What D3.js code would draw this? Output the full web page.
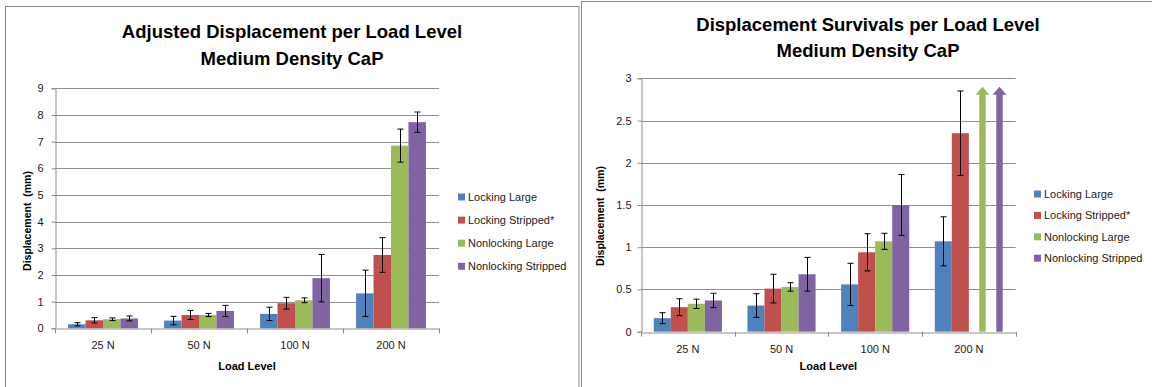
<!DOCTYPE html>
<html><head><meta charset="utf-8">
<script src="https://cdn.jsdelivr.net/npm/d3@7"></script>
<style>
html,body{margin:0;padding:0;background:#fff;}
svg{display:block;font-family:"Liberation Sans",Arial,sans-serif;}
</style></head>
<body>
<svg id="c" width="1152" height="387"></svg>
<script>
// ---------- data ----------
const categories = ["25 N", "50 N", "100 N", "200 N"];
const seriesNames = ["Locking Large", "Locking Stripped*", "Nonlocking Large", "Nonlocking Stripped"];
const seriesColors = ["#4F81BD", "#C0504D", "#9BBB59", "#8064A2"];

// Chart 1: Adjusted Displacement (mm)
const adjLockingLarge       = [0.15, 0.29, 0.54, 1.31];
const adjLockingStripped    = [0.30, 0.50, 0.94, 2.75];
const adjNonlockingLarge    = [0.34, 0.50, 1.05, 6.85];
const adjNonlockingStripped = [0.37, 0.65, 1.88, 7.73];
const adjErrLockingLarge       = [0.06, 0.16, 0.25, 0.87];
const adjErrLockingStripped    = [0.10, 0.17, 0.22, 0.65];
const adjErrNonlockingLarge    = [0.05, 0.06, 0.09, 0.62];
const adjErrNonlockingStripped = [0.09, 0.21, 0.89, 0.38];
const adjTicks = [0, 1, 2, 3, 4, 5, 6, 7, 8, 9];

// Chart 2: Displacement Survivals (mm); null = survived beyond scale (arrow)
const survLockingLarge       = [0.16, 0.31, 0.56, 1.07];
const survLockingStripped    = [0.29, 0.51, 0.94, 2.35];
const survNonlockingLarge    = [0.33, 0.53, 1.07, null];
const survNonlockingStripped = [0.37, 0.68, 1.50, null];
const survErrLockingLarge       = [0.065, 0.14, 0.25, 0.29];
const survErrLockingStripped    = [0.10, 0.17, 0.22, 0.50];
const survErrNonlockingLarge    = [0.055, 0.05, 0.095, null];
const survErrNonlockingStripped = [0.085, 0.20, 0.36, null];
const survArrowTop = 2.9;
const survTicks = [0, 0.5, 1, 1.5, 2, 2.5, 3];

const yTitle = "Displacement  (mm)";
const xTitle = "Load Level";

// ---------- drawing ----------
const svg = d3.select("#c");
const GRID = "#8f8f8f";

// panel frames
svg.append("rect").attr("x", 5.5).attr("y", 6.5).attr("width", 573.5).attr("height", 390)
  .attr("fill", "#fff").attr("stroke", "#8a8a8a");
svg.append("rect").attr("x", 581.5).attr("y", 1.5).attr("width", 580).attr("height", 400)
  .attr("fill", "#fff").attr("stroke", "#8a8a8a");

function drawChart(cfg) {
  const g = svg.append("g");
  const x = d3.scaleBand().domain(categories).range([cfg.x0, cfg.x1]).padding(0);
  const xs = d3.scaleBand().domain(seriesNames).range([0, x.bandwidth()]).paddingInner(0).paddingOuter(0.75);
  const y = d3.scaleLinear().domain([0, cfg.max]).range([cfg.yb, cfg.yt]);

  // gridlines
  g.append("g").selectAll("line").data(cfg.ticks.filter(t => t > 0)).join("line")
    .attr("x1", cfg.x0).attr("x2", cfg.x1)
    .attr("y1", d => Math.round(y(d)) + 0.5).attr("y2", d => Math.round(y(d)) + 0.5)
    .attr("stroke", GRID).attr("stroke-width", 1);

  // y axis
  const ya = g.append("g").attr("transform", `translate(${Math.round(cfg.x0) + 0.5},0)`)
    .call(d3.axisLeft(y).tickValues(cfg.ticks).tickSize(4).tickPadding(cfg.yPad).tickFormat(d3.format("")));
  ya.select(".domain").attr("stroke", GRID);
  ya.selectAll(".tick line").attr("stroke", GRID);
  ya.selectAll("text").attr("font-size", 11).attr("fill", "#1a1a1a").attr("font-family", "Liberation Sans, Arial, sans-serif");

  // x axis
  const xa = g.append("g").attr("transform", `translate(0,${Math.round(cfg.yb) + 0.5})`)
    .call(d3.axisBottom(x).tickSize(0).tickPadding(13));
  xa.select(".domain").attr("stroke", GRID);
  xa.selectAll("text").attr("font-size", 11).attr("fill", "#1a1a1a").attr("font-family", "Liberation Sans, Arial, sans-serif");
  // category boundary ticks
  const bounds = categories.map(c => x(c)).concat([cfg.x1]);
  g.append("g").selectAll("line").data(bounds).join("line")
    .attr("x1", d => Math.round(d) + 0.5).attr("x2", d => Math.round(d) + 0.5)
    .attr("y1", cfg.yb).attr("y2", cfg.yb + 5).attr("stroke", GRID);

  // bars
  cfg.series.forEach((vals, si) => {
    const sg = g.append("g");
    const rows = categories.map((c, ci) => ({c, v: vals[ci], e: cfg.errs[si][ci]}));
    sg.selectAll("rect").data(rows.filter(d => d.v != null)).join("rect")
      .attr("x", d => x(d.c) + xs(seriesNames[si]))
      .attr("width", xs.bandwidth())
      .attr("y", d => y(d.v)).attr("height", d => y(0) - y(d.v))
      .attr("fill", seriesColors[si]);
  });
  // arrows for survivals beyond scale
  if (cfg.arrowTop != null) {
    cfg.series.forEach((vals, si) => {
      categories.forEach((c, ci) => {
        if (vals[ci] == null) {
          const cx = x(c) + xs(seriesNames[si]) + xs.bandwidth() * 0.8;
          const top = y(cfg.arrowTop), base = y(0);
          const hw = 7, sw = 3.2, hh = 8;
          const path = `M${cx - sw},${base} L${cx - sw},${top + hh} L${cx - hw},${top + hh} L${cx},${top} L${cx + hw},${top + hh} L${cx + sw},${top + hh} L${cx + sw},${base} Z`;
          g.append("path").attr("d", path).attr("fill", seriesColors[si]);
        }
      });
    });
  }
  // error bars
  cfg.series.forEach((vals, si) => {
    const eg = g.append("g").attr("stroke", "#000").attr("stroke-width", 1);
    categories.forEach((c, ci) => {
      const v = vals[ci], e = cfg.errs[si][ci];
      if (v == null || e == null) return;
      const cx = Math.round(x(c) + xs(seriesNames[si]) + xs.bandwidth() / 2) + 0.5;
      const y1 = y(v + e), y2 = y(v - e);
      eg.append("line").attr("x1", cx).attr("x2", cx).attr("y1", y1).attr("y2", y2);
      eg.append("line").attr("x1", cx - 3).attr("x2", cx + 3).attr("y1", y1).attr("y2", y1);
      eg.append("line").attr("x1", cx - 3).attr("x2", cx + 3).attr("y1", y2).attr("y2", y2);
    });
  });

  // titles
  const tg = g.append("g").attr("font-weight", "bold").attr("font-size", 18.5).attr("text-anchor", "middle").attr("fill", "#000");
  tg.append("text").attr("x", cfg.tx).attr("y", cfg.ty1).attr("dy", "0.35em").text(cfg.title[0]);
  tg.append("text").attr("x", cfg.tx).attr("y", cfg.ty2).attr("dy", "0.35em").text(cfg.title[1]);

  // axis titles
  g.append("text").attr("transform", `translate(${cfg.yTitleX},${cfg.yTitleY}) rotate(-90)`)
    .attr("text-anchor", "middle").attr("dy", "0.35em").attr("font-size", 10.5).attr("font-weight", "bold")
    .attr("xml:space", "preserve").style("white-space", "pre").text(yTitle);
  g.append("text").attr("x", (cfg.x0 + cfg.x1) / 2).attr("y", cfg.xTitleY).attr("dy", "0.35em")
    .attr("text-anchor", "middle").attr("font-size", 11).attr("font-weight", "bold").text(xTitle);

  // legend
  const lg = g.append("g");
  seriesNames.forEach((n, i) => {
    const ly = cfg.legY + i * cfg.legStep;
    lg.append("rect").attr("x", cfg.legX).attr("y", ly - 3.5).attr("width", 7).attr("height", 7).attr("fill", seriesColors[i]);
    lg.append("text").attr("x", cfg.legX + 10).attr("y", ly).attr("dy", "0.35em")
      .attr("font-size", 11).attr("fill", "#1a1a1a").text(n);
  });
}

drawChart({
  x0: 55, x1: 439, yt: 88.3, yb: 328.3, max: 9, ticks: adjTicks, yPad: 8,
  series: [adjLockingLarge, adjLockingStripped, adjNonlockingLarge, adjNonlockingStripped],
  errs: [adjErrLockingLarge, adjErrLockingStripped, adjErrNonlockingLarge, adjErrNonlockingStripped],
  title: ["Adjusted Displacement per Load Level", "Medium Density CaP"],
  tx: 292, ty1: 31.5, ty2: 59,
  yTitleX: 27.5, yTitleY: 221, xTitleY: 366,
  legX: 458, legY: 197, legStep: 23.1
});

drawChart({
  x0: 641, x1: 1015.7, yt: 78.3, yb: 331.7, max: 3, ticks: survTicks, yPad: 6,
  series: [survLockingLarge, survLockingStripped, survNonlockingLarge, survNonlockingStripped],
  errs: [survErrLockingLarge, survErrLockingStripped, survErrNonlockingLarge, survErrNonlockingStripped],
  arrowTop: survArrowTop,
  title: ["Displacement Survivals per Load Level", "Medium Density CaP"],
  tx: 868, ty1: 25, ty2: 50.5,
  yTitleX: 600, yTitleY: 216, xTitleY: 366.5,
  legX: 1034, legY: 194, legStep: 21.4
});
</script>
</body></html>
